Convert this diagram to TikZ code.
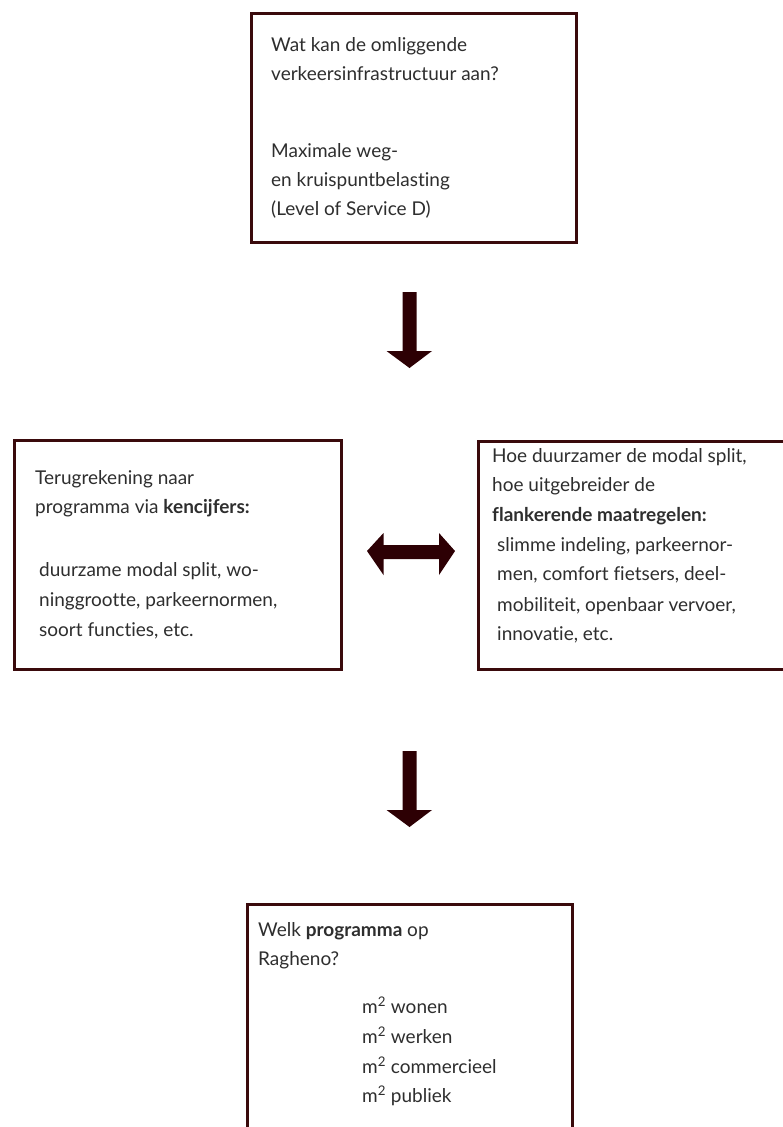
\documentclass[tikz,border=0pt]{standalone}
\usepackage{fontspec}
\setmainfont[Ligatures=NoCommon]{Lato}
\definecolor{boxline}{HTML}{3A0A0C}
\definecolor{arrowfill}{HTML}{2D0004}
\definecolor{txt}{HTML}{2E2E2E}
\begin{document}
\begin{tikzpicture}[x=1pt,y=-1pt,
  box/.style={draw=boxline,line width=2.6pt,fill=white},
  ln/.style={anchor=base west,inner sep=0pt,text=txt,font=\fontsize{19}{22}\selectfont},
  blockarrow/.style={fill=arrowfill,draw=none}]
\useasboundingbox (0,0) rectangle (783,1127);
% boxes
\node[box,minimum width=325pt,minimum height=229pt,anchor=north west] (top) at (250,12) {};
\node[box,minimum width=327pt,minimum height=229pt,anchor=north west] (left) at (13,439) {};
\node[box,minimum width=320pt,minimum height=228pt,anchor=north west] (right) at (477,440) {};
\node[box,minimum width=325pt,minimum height=240pt,anchor=north west] (bottom) at (246,903) {};
% top box text
\node[ln] (t1) at (271,51) {Wat kan de omliggende};
\node[ln] (t2) at (271,80) {verkeersinfrastructuur aan?};
\node[ln] (t3) at (271,157) {Maximale weg-};
\node[ln] (t4) at (271,186) {en kruispuntbelasting};
\node[ln] (t5) at (271,215) {(Level of Service D)};
% left box text
\node[ln] (l1) at (35,484) {Terugrekening naar};
\node[ln] (l2) at (35,513) {programma via \textbf{kencijfers:}};
\node[ln] (l3) at (39,576) {duurzame modal split, wo-};
\node[ln] (l4) at (39,606) {ninggrootte, parkeernormen,};
\node[ln] (l5) at (39,636) {soort functies, etc.};
% right box text
\node[ln] (r1) at (492,462) {Hoe duurzamer de modal split,};
\node[ln] (r2) at (492,491) {hoe uitgebreider de};
\node[ln] (r3) at (492,521) {\textbf{flankerende maatregelen:}};
\node[ln] (r4) at (497,551) {slimme indeling, parkeernor-};
\node[ln] (r5) at (497,580) {men, comfort fietsers, deel-};
\node[ln] (r6) at (497,611) {mobiliteit, openbaar vervoer,};
\node[ln] (r7) at (497,640) {innovatie, etc.};
% bottom box text
\node[ln] (b1) at (258,936) {Welk \textbf{programma} op};
\node[ln] (b2) at (258,965) {Ragheno?};
\node[ln] (b3) at (362,1013) {m\textsuperscript{2} wonen};
\node[ln] (b4) at (362,1043) {m\textsuperscript{2} werken};
\node[ln] (b5) at (362,1073) {m\textsuperscript{2} commercieel};
\node[ln] (b6) at (362,1102) {m\textsuperscript{2} publiek};
% arrows
\fill[blockarrow] (402.5,292) -- (416.5,292) -- (416.5,351) -- (432,351) -- (409.5,368) -- (386.5,351) -- (402.5,351) -- cycle;
\fill[blockarrow] (402.5,751) -- (416.5,751) -- (416.5,810) -- (432,810) -- (409.5,827) -- (386.5,810) -- (402.5,810) -- cycle;
\fill[blockarrow] (367,551) -- (383.5,533) -- (383.5,545) -- (439,545) -- (439,533) -- (455,551) -- (439,575) -- (439,559) -- (383.5,559) -- (383.5,575) -- cycle;
\end{tikzpicture}
\end{document}
